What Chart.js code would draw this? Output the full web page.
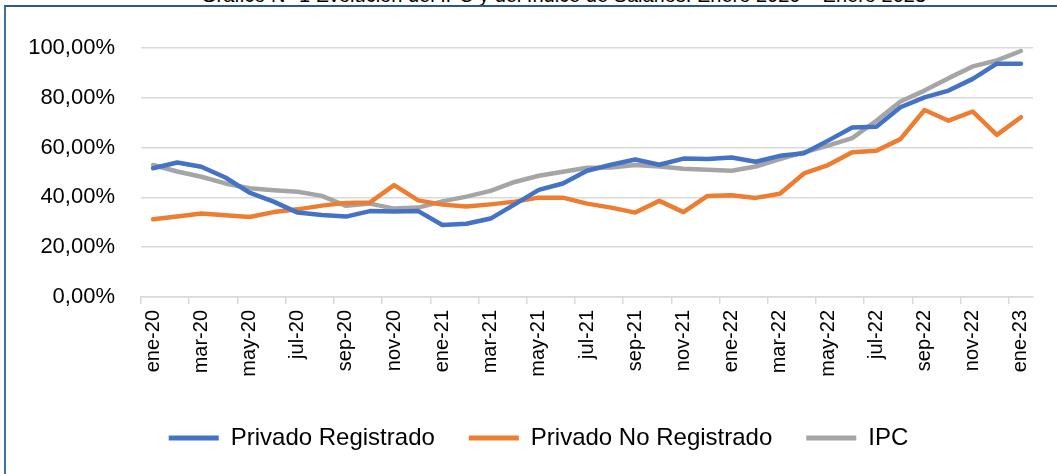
<!DOCTYPE html>
<html>
<head>
<meta charset="utf-8">
<script src="https://cdn.jsdelivr.net/npm/chart.js@4.4.0/dist/chart.umd.min.js"></script>
<style>
  html, body { margin: 0; padding: 0; background: #fff; overflow: hidden; }
  #wrap { position: relative; width: 1057px; height: 474px; overflow: hidden; }
  #titulo {
    position: absolute; left: 0; width: 1057px; top: -15px;
    text-align: center; font: 20px "Liberation Sans", Arial, sans-serif;
    line-height: 20px; color: #000; padding-left: 70px; box-sizing: border-box;
  }
  #marco {
    position: absolute; left: 4px; top: 5px; width: 1200px; height: 600px;
    border-left: 2px solid #41719C; border-top: 2px solid #2F5597;
  }
  canvas { position: absolute; left: 0; top: 0; }
</style>
</head>
<body>
<div id="wrap">
  <div id="titulo">Gráfico N° 1 Evolución del IPC y del Índice de Salarios. Enero 2020 – Enero 2023</div>
  <div id="marco"></div>
  <canvas id="grafico" width="1057" height="474"></canvas>
</div>
<script>
// meses (ene-20 .. ene-23)
const meses = [
  'ene-20','feb-20','mar-20','abr-20','may-20','jun-20','jul-20','ago-20','sep-20','oct-20','nov-20','dic-20',
  'ene-21','feb-21','mar-21','abr-21','may-21','jun-21','jul-21','ago-21','sep-21','oct-21','nov-21','dic-21',
  'ene-22','feb-22','mar-22','abr-22','may-22','jun-22','jul-22','ago-22','sep-22','oct-22','nov-22','dic-22',
  'ene-23'
];

// variación interanual, en %
const privadoRegistrado = [
  51.7, 54.0, 52.3, 48.0, 41.9, 38.3, 33.9, 32.9, 32.3, 34.5, 34.3, 34.5,
  28.9, 29.4, 31.5, 37.2, 43.0, 45.6, 50.7, 53.1, 55.2, 53.1, 55.6, 55.4,
  56.0, 54.3, 56.7, 57.7, 62.8, 68.1, 68.4, 76.2, 80.2, 82.9, 87.6, 93.7,
  93.7
];
const privadoNoRegistrado = [
  31.2, 32.3, 33.5, 32.8, 32.1, 34.1, 35.2, 36.7, 37.8, 38.0, 44.9, 38.8,
  37.1, 36.3, 37.2, 38.3, 39.9, 39.9, 37.5, 35.9, 33.9, 38.6, 34.1, 40.6,
  40.9, 39.8, 41.5, 49.6, 53.0, 58.1, 58.7, 63.4, 75.1, 70.8, 74.5, 65.1,
  72.2
];
const ipc = [
  53.0, 50.4, 48.3, 45.6, 43.7, 42.9, 42.3, 40.6, 36.6, 37.5, 35.5, 35.9,
  38.4, 40.3, 42.6, 46.2, 48.7, 50.3, 51.9, 52.0, 53.0, 52.4, 51.5, 51.1,
  50.7, 52.4, 55.4, 58.1, 60.8, 63.8, 70.8, 78.5, 82.9, 87.9, 92.6, 95.0,
  98.8
];

const fuente = 'Liberation Sans, Arial, sans-serif';

function serie(label, data, color) {
  return {
    label: label,
    data: data,
    borderColor: color,
    backgroundColor: color,
    borderWidth: 4.5,
    pointRadius: 0,
    tension: 0,
    borderJoinStyle: 'round',
    borderCapStyle: 'round'
  };
}

// corre la leyenda un poco a la derecha, como en el original
const moverLeyenda = {
  id: 'moverLeyenda',
  afterLayout(chart) {
    if (chart.legend) chart.legend.left += 44;
  }
};

new Chart(document.getElementById('grafico'), {
  type: 'line',
  data: {
    labels: meses,
    datasets: [
      serie('Privado Registrado', privadoRegistrado, '#4472C4'),
      serie('Privado No Registrado', privadoNoRegistrado, '#ED7D31'),
      serie('IPC', ipc, '#A5A5A5')
    ]
  },
  plugins: [moverLeyenda],
  options: {
    responsive: false,
    animation: false,
    layout: { padding: { top: 48, left: 0, right: 24, bottom: 14 } },
    plugins: {
      tooltip: { enabled: false },
      legend: {
        position: 'bottom',
        labels: {
          color: '#000',
          font: { family: fuente, size: 24 },
          boxWidth: 50,
          boxHeight: 5,
          padding: 34,
          generateLabels(chart) {
            const items = Chart.defaults.plugins.legend.labels.generateLabels(chart);
            items.forEach(i => { i.lineWidth = 0; i.fillStyle = i.strokeStyle; });
            return items;
          }
        }
      }
    },
    scales: {
      x: {
        offset: true,
        afterFit(scale) { scale.height = 95; },
        border: { color: '#D9D9D9', width: 1.5 },
        grid: {
          offset: true,
          drawOnChartArea: false,
          tickLength: 7,
          lineWidth: 1.5,
          color: ctx => (ctx.index % 2 === 0 ? '#D9D9D9' : 'rgba(0,0,0,0)')
        },
        ticks: {
          autoSkip: false,
          maxRotation: 90,
          minRotation: 90,
          padding: 6,
          color: '#000',
          font: { family: fuente, size: 20 },
          callback(v, i) { return i % 2 === 0 ? meses[i] : ''; }
        }
      },
      y: {
        min: 0,
        max: 100,
        afterFit(scale) { scale.width = 141; },
        border: { display: false },
        grid: { color: '#D9D9D9', lineWidth: 1.5, drawTicks: false },
        ticks: {
          stepSize: 20,
          padding: 26,
          color: '#000',
          font: { family: fuente, size: 22 },
          callback: v => v.toFixed(2).replace('.', ',') + '%'
        }
      }
    }
  }
});
</script>
</body>
</html>
